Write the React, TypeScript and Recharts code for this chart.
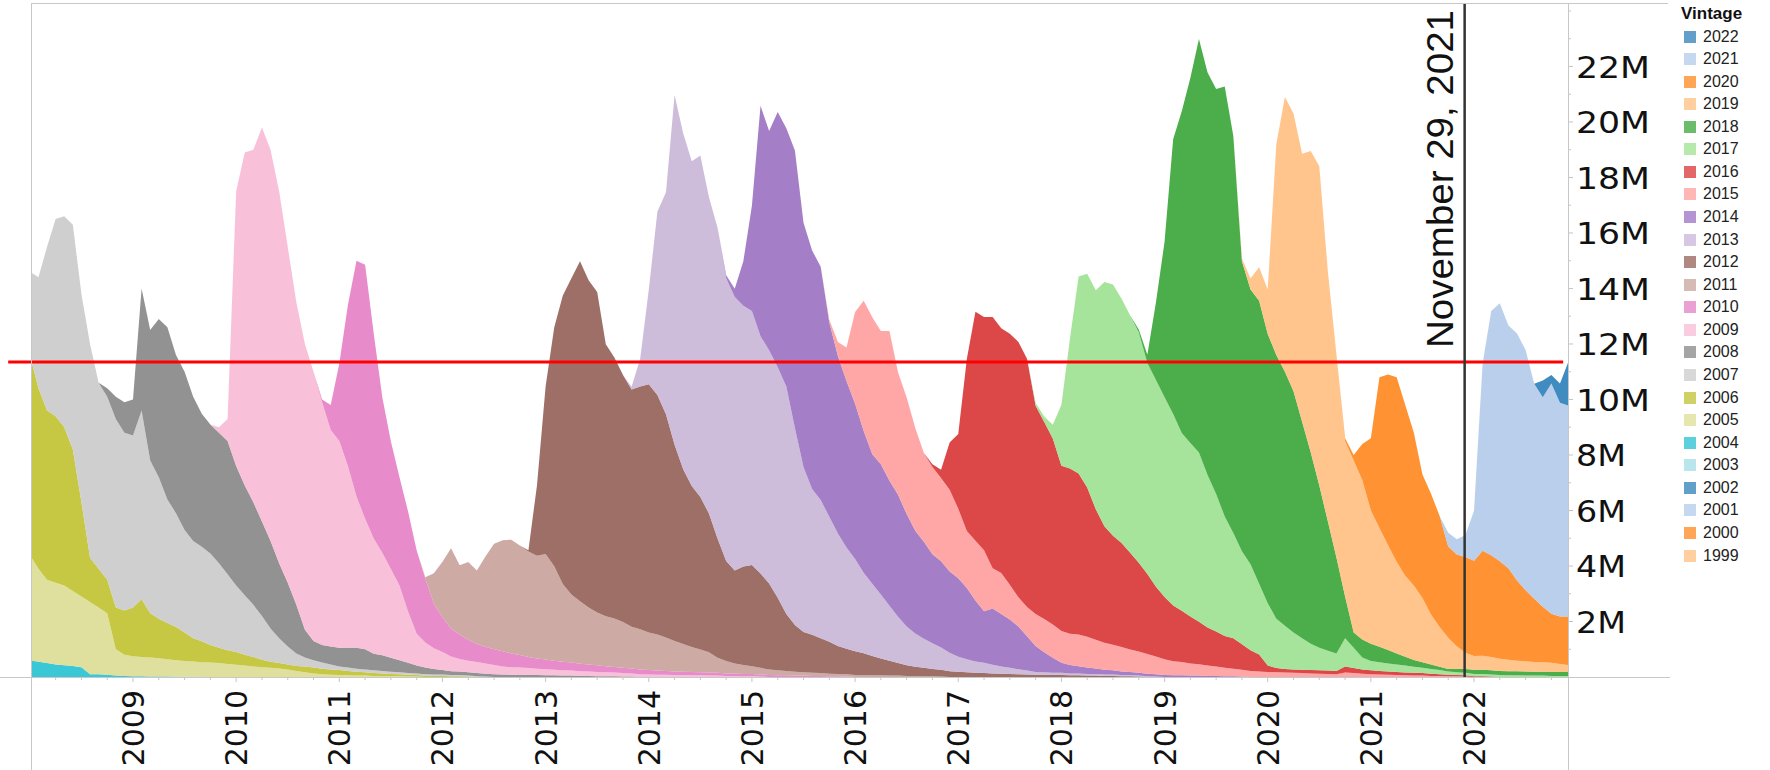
import React from 'react';
import { AreaChart, Area, XAxis, YAxis, ReferenceLine } from 'recharts';

// ---------- categories ----------
const legendVintages = ['2022','2021','2020','2019','2018','2017','2016','2015','2014','2013','2012','2011','2010','2009','2008','2007','2006','2005','2004','2003','2002','2001','2000','1999'];
const drawnVintages = ['2004','2005','2006','2007','2008','2009','2010','2011','2012','2013','2014','2015','2016','2017','2018','2019','2020','2021','2022'];

const vintageColors: Record<string, string> = {
  '2022': '#1f77b4', '2021': '#aec7e8', '2020': '#ff7f0e', '2019': '#ffbb78',
  '2018': '#2ca02c', '2017': '#98df8a', '2016': '#d62728', '2015': '#ff9896',
  '2014': '#9467bd', '2013': '#c5b0d5', '2012': '#8c564b', '2011': '#c49c94',
  '2010': '#e377c2', '2009': '#f7b6d2', '2008': '#7f7f7f', '2007': '#c7c7c7',
  '2006': '#bcbd22', '2005': '#dbdb8d', '2004': '#17becf', '2003': '#9edae5',
  '2002': '#1f77b4', '2001': '#aec7e8', '2000': '#ff7f0e', '1999': '#ffbb78',
};

// first month of each vintage's monthly series
const seriesStart: Record<string, string> = {
  '2004': '2008-01', '2005': '2008-01', '2006': '2008-01', '2007': '2008-01',
  '2008': '2008-10', '2009': '2009-11', '2010': '2010-11', '2011': '2011-11',
  '2012': '2012-11', '2013': '2013-11', '2014': '2014-10', '2015': '2015-10',
  '2016': '2016-10', '2017': '2017-10', '2018': '2018-10', '2019': '2019-10',
  '2020': '2020-10', '2021': '2021-09', '2022': '2022-08',
};

// ---------- series values (millions, one value per month) ----------
const v2004 = [0.6,0.55,0.5,0.45,0.42,0.4,0.35,0.1,0.1,0.08,0.05,0.04,0.03,0.03,0.02,0.02,0.02,0.01,0.01,0.01];
const v2005 = [3.8,3.35,3.0,2.95,2.88,2.7,2.55,2.6,2.4,2.22,0.95,0.76,0.72,0.69,0.68,0.66,0.62,0.59,0.57,0.55,0.53,0.52,0.5,0.47,0.44,0.41,0.38,0.35,0.33,0.31,0.27,0.22,0.17,0.13,0.1,0.08,0.07,0.06,0.05,0.05,0.04,0.04,0.03,0.03,0.02,0.02];
const v2006 = [7.2,6.5,6.1,6.0,5.7,5.1,3.4,1.6,1.4,1.2,1.5,1.6,1.75,2.08,1.6,1.42,1.31,1.2,1.02,0.84,0.76,0.63,0.55,0.49,0.46,0.39,0.34,0.27,0.22,0.19,0.18,0.18,0.21,0.21,0.2,0.19,0.18,0.16,0.14,0.12,0.1,0.09,0.08,0.07,0.06,0.05,0.05,0.04,0.04,0.03,0.03,0.02];
const v2007 = [3.0,4.0,5.9,7.1,7.6,8.1,7.5,7.7,6.7,6.6,6.8,6.4,6.2,6.8,5.5,5.1,4.45,4.1,3.7,3.5,3.4,3.3,3.05,2.74,2.4,2.15,1.88,1.58,1.2,0.9,0.65,0.45,0.32,0.26,0.22,0.18,0.13,0.12,0.11,0.1,0.1,0.09,0.08,0.07,0.06,0.06,0.05,0.05,0.05,0.04,0.04,0.03,0.03,0.02];
const v2008 = [0.3,0.8,1.1,1.3,4.4,4.7,5.7,6.2,5.7,5.7,5.2,4.8,4.65,4.7,4.8,4.3,3.95,3.7,3.4,3.15,2.7,2.3,1.75,1.0,0.7,0.63,0.65,0.67,0.71,0.75,0.73,0.6,0.56,0.5,0.43,0.37,0.28,0.24,0.2,0.16,0.14,0.13,0.12,0.11,0.1,0.1,0.09,0.08,0.08,0.07,0.07,0.06,0.06,0.05,0.05,0.04,0.04,0.03,0.03,0.03,0.02,0.02];
const v2009 = [0.2,0.8,9.9,12.0,12.7,14.2,14.1,13.4,12.1,10.9,10.3,9.7,8.75,7.8,7.45,6.55,5.45,4.7,4.15,3.7,3.2,2.7,1.85,1.15,0.9,0.75,0.65,0.53,0.45,0.42,0.4,0.37,0.33,0.29,0.27,0.26,0.25,0.23,0.22,0.2,0.19,0.18,0.17,0.16,0.15,0.14,0.13,0.12,0.11,0.1,0.09,0.08,0.08,0.07,0.07,0.06,0.06,0.05,0.05,0.04,0.04,0.03,0.03,0.02];
const v2010 = [0.1,0.9,2.8,5.8,8.5,9.15,7.4,5.6,4.6,3.9,3.6,3.0,2.3,1.6,1.25,1.0,0.88,0.75,0.65,0.6,0.57,0.55,0.5,0.45,0.4,0.37,0.35,0.33,0.31,0.29,0.27,0.25,0.24,0.22,0.2,0.19,0.18,0.17,0.16,0.15,0.14,0.13,0.12,0.12,0.11,0.11,0.1,0.09,0.09,0.08,0.08,0.07,0.07,0.06,0.06,0.05,0.05,0.04,0.04,0.03,0.03,0.02];
const v2011 = [0.05,1.1,2.0,2.9,2.5,2.8,2.65,3.25,3.8,4.0,4.1,3.95,3.8,3.7,3.8,3.4,2.8,2.45,2.25,2.05,1.9,1.8,1.75,1.65,1.5,1.45,1.35,1.3,1.2,1.1,1.0,0.9,0.82,0.73,0.54,0.45,0.36,0.32,0.28,0.24,0.2,0.18,0.16,0.14,0.12,0.11,0.1,0.09,0.08,0.08,0.07,0.07,0.06,0.06,0.05,0.05,0.04,0.04,0.03,0.03,0.02];
const v2012 = [0.05,2.55,6.05,8.6,10.4,11.4,12.25,11.8,11.55,9.8,9.4,8.9,8.55,8.75,8.95,8.63,8.05,7.07,6.3,5.8,5.5,5.0,4.3,3.6,3.35,3.55,3.65,3.4,3.1,2.62,2.05,1.68,1.45,1.37,1.26,1.15,1.01,0.92,0.86,0.79,0.7,0.61,0.54,0.45,0.38,0.33,0.3,0.26,0.24,0.21,0.19,0.17,0.15,0.14,0.13,0.12,0.11,0.1,0.09,0.08,0.08,0.07,0.07,0.06,0.06,0.05,0.05,0.04,0.04,0.03,0.03,0.02];
const v2013 = [0.1,1.0,3.4,6.6,8.0,12.6,12.1,11.7,12.3,11.4,11.2,10.2,9.85,9.4,9.15,8.55,8.4,8.3,8.2,7.1,5.95,5.25,4.98,4.5,4.05,3.65,3.32,2.9,2.6,2.3,1.98,1.67,1.4,1.2,1.05,0.93,0.8,0.66,0.54,0.47,0.41,0.37,0.31,0.26,0.22,0.18,0.14,0.1,0.09,0.08,0.08,0.07,0.07,0.06,0.06,0.05,0.05,0.04,0.04,0.03,0.03,0.02];
const v2014 = [0.1,0.3,1.6,3.8,8.3,7.9,9.2,9.3,10.0,8.8,8.6,8.4,7.0,6.4,6.0,5.6,5.1,4.67,4.7,4.5,4.4,4.05,3.7,3.49,3.2,3.11,2.93,2.83,2.57,2.2,1.86,2.03,1.89,1.74,1.54,1.24,0.94,0.72,0.54,0.36,0.3,0.26,0.23,0.2,0.17,0.15,0.13,0.11,0.1,0.09,0.08,0.07,0.06,0.06,0.05,0.05,0.04,0.04,0.03,0.03,0.02];
const v2015 = [0.1,0.5,1.2,3.3,4.7,4.93,4.8,5.4,4.4,4.2,3.7,3.2,3.15,3.0,2.95,2.5,2.05,2.15,2.2,1.45,1.48,1.25,1.05,1.05,1.15,1.2,1.2,1.15,1.13,1.14,1.11,1.03,0.97,0.92,0.88,0.81,0.77,0.71,0.64,0.57,0.51,0.48,0.44,0.41,0.37,0.34,0.3,0.27,0.24,0.22,0.2,0.18,0.17,0.16,0.15,0.14,0.13,0.12,0.11,0.1,0.16,0.14,0.12,0.1,0.09,0.08,0.07,0.06,0.05,0.05,0.04,0.04,0.03,0.03,0.02];
const v2016 = [0.1,0.3,1.7,2.7,6.2,8.25,8.4,9.05,8.82,9.05,9.2,8.95,7.5,7.1,6.7,5.95,5.95,5.8,5.38,4.7,4.2,3.93,3.75,3.49,3.2,2.88,2.51,2.24,2.01,1.85,1.69,1.53,1.37,1.26,1.15,1.1,0.92,0.74,0.61,0.23,0.15,0.13,0.12,0.12,0.12,0.12,0.12,0.12,0.22,0.18,0.15,0.14,0.13,0.12,0.11,0.1,0.1,0.09,0.08,0.06,0.05,0.04,0.04,0.03,0.03,0.02];
const v2017 = [0.1,0.2,0.5,2.2,4.7,7.1,7.7,7.9,8.8,9.05,8.8,8.55,8.3,7.6,7.45,7.2,6.9,6.4,6.25,6.1,5.5,4.95,4.3,3.79,3.35,3.1,2.55,2.25,1.78,1.56,1.33,1.14,0.95,0.81,0.72,0.63,1.02,0.73,0.43,0.34,0.31,0.29,0.27,0.25,0.22,0.19,0.17,0.15,0.12,0.1,0.09,0.08,0.08,0.07,0.07,0.06,0.06,0.05,0.05,0.05,0.04,0.04,0.04];
const v2018 = [0.1,0.3,2.8,5.6,9.9,11.6,13.15,14.9,14.5,14.6,15.5,14.3,10.45,9.9,10.2,9.7,9.5,9.15,8.7,7.8,6.9,5.85,4.65,3.45,1.5,0.55,0.65,0.62,0.56,0.48,0.4,0.32,0.24,0.2,0.16,0.12,0.09,0.12,0.14,0.15,0.15,0.15,0.15,0.15,0.15,0.15,0.14,0.14,0.14,0.14,0.14];
const v2019 = [0.1,0.4,1.2,1.6,7.6,9.9,10.0,9.65,10.85,11.5,9.0,7.3,5.6,6.2,5.75,4.8,4.28,3.78,3.3,2.92,2.69,2.32,1.8,1.43,1.12,0.82,0.58,0.5,0.51,0.48,0.44,0.41,0.38,0.37,0.35,0.34,0.33,0.29,0.25];
const v2020 = [0.1,0.2,1.3,2.6,5.43,6.15,6.65,6.15,5.5,4.45,4.35,4.0,3.29,3.3,3.45,3.43,3.78,3.67,3.51,3.3,2.89,2.56,2.28,2.0,1.77,1.71,1.75];
const v2021 = [0,0.5,0.55,0.8,1.8,6.75,8.8,9.3,8.75,8.9,8.65,7.75,7.55,8.3,7.7,7.6];
const v2022 = [0,0.6,0.3,0.7,1.6];

const seriesValues: Record<string, number[]> = {
  '2004': v2004, '2005': v2005, '2006': v2006, '2007': v2007, '2008': v2008,
  '2009': v2009, '2010': v2010, '2011': v2011, '2012': v2012, '2013': v2013,
  '2014': v2014, '2015': v2015, '2016': v2016, '2017': v2017, '2018': v2018,
  '2019': v2019, '2020': v2020, '2021': v2021, '2022': v2022,
};

// ---------- axis ticks & annotations ----------
const yearTickLabels = ['2009','2010','2011','2012','2013','2014','2015','2016','2017','2018','2019','2020','2021','2022'];
const yTickValues = [1,2,3,4,5,6,7,8,9,10,11,12,13,14,15,16,17,18,19,20,21,22,23,24];
const thresholdValue = 11.35;           // millions (red line)
const thresholdFrom = 2007.79;
const thresholdTo = 2022.864;
const markerDate = 2021.909;            // November 29, 2021
const markerLabel = 'November 29, 2021';
const firstYear = 2008;
const monthCount = 180;
const xDomain: [number, number] = [2008.017, 2022.911];
const yDomain: [number, number] = [0, 24.25];

const monthIndex = (s: string) => {
  const [y, m] = s.split('-').map(Number);
  return (y - firstYear) * 12 + (m - 1);
};

const data = Array.from({ length: monthCount }, (_, m) => {
  const row: Record<string, number> = { t: firstYear + m / 12 };
  for (const k of drawnVintages) {
    const arr = seriesValues[k];
    const i = m - monthIndex(seriesStart[k]);
    row['v' + k] = i >= 0 && i < arr.length ? arr[i] : 0;
  }
  return row;
});

const quarterTicks: number[] = [];
for (let y = firstYear; y <= 2022; y++) {
  for (let q = 0; q < 4; q++) {
    const v = y + q / 4;
    if (v > xDomain[0] && v < xDomain[1]) quarterTicks.push(v);
  }
}

const XTick = (props: any) => {
  const { x, y, payload } = props;
  const v = payload.value as number;
  const isYear = Math.abs(v - Math.round(v)) < 1e-6;
  const label = isYear ? yearTickLabels.find((l) => Number(l) === Math.round(v)) : undefined;
  const bx = x + 11;
  const by = y + 13;
  return (
    <g>
      <line x1={x} x2={x} y1={y} y2={y + (isYear ? 5 : 3)} stroke="#c4c4c4" strokeWidth={1} />
      {label && (
        <text x={bx} y={by} transform={`rotate(-90 ${bx} ${by})`} textAnchor="end"
          fontSize={30} fontFamily="DejaVu Sans" fill="#111">{label}</text>
      )}
    </g>
  );
};

const YTick = (props: any) => {
  const { x, y, payload } = props;
  const v = payload.value as number;
  const major = v % 2 === 0 && v <= 22;
  return (
    <g>
      <line x1={x} x2={x + (major ? 5 : 3)} y1={y} y2={y} stroke="#c4c4c4" strokeWidth={1} />
      {major && (
        <text x={x + 8} y={y} dy="0.36em" fontSize={31} fontFamily="DejaVu Sans" fill="#111"
          textLength={v >= 10 ? 74 : 50} lengthAdjust="spacingAndGlyphs">{`${v}M`}</text>
      )}
    </g>
  );
};

const MarkerLabel = (props: any) => {
  const vb = props.viewBox || {};
  const bx = (vb.x ?? 0) - 11.5;
  const by = (vb.y ?? 0) + 344;
  return (
    <text x={bx} y={by} transform={`rotate(-90 ${bx} ${by})`} textAnchor="start"
      fontSize={37} fontFamily="Liberation Sans" fill="#111" textLength={338}
      lengthAdjust="spacingAndGlyphs">{markerLabel}</text>
  );
};

const frame = '#c8c8c8';
const lineStyle = (s: React.CSSProperties): React.CSSProperties => ({ position: 'absolute', background: frame, ...s });

export default function App() {
  return (
    <div style={{ position: 'absolute', left: 0, top: 0, width: 1770, height: 770, background: '#fff', overflow: 'hidden' }}>
      <AreaChart width={1770} height={770} data={data}
        margin={{ top: 4, right: 102, bottom: 0, left: 31.6 }}>
        <XAxis dataKey="t" type="number" domain={xDomain} allowDataOverflow ticks={quarterTicks}
          interval={0} tickSize={0} tickMargin={0} axisLine={false} tickLine={false} height={93}
          tick={<XTick />} />
        <YAxis orientation="right" type="number" domain={yDomain} allowDataOverflow ticks={yTickValues}
          interval={0} tickSize={0} tickMargin={0} axisLine={false} tickLine={false} width={100}
          tick={<YTick />} />
        {drawnVintages.map((k) => (
          <Area key={k} type="linear" dataKey={'v' + k} stackId="vintage" stroke="none"
            fill={vintageColors[k]} fillOpacity={0.85} isAnimationActive={false}
            dot={false} activeDot={false} />
        ))}
        <ReferenceLine segment={[{ x: thresholdFrom, y: thresholdValue }, { x: thresholdTo, y: thresholdValue }]}
          stroke="#ff0000" strokeWidth={3} ifOverflow="visible" />
        <ReferenceLine x={markerDate} stroke="#333333" strokeWidth={2.5} ifOverflow="visible"
          label={<MarkerLabel />} />
      </AreaChart>

      {/* frame lines */}
      <div style={lineStyle({ left: 31, top: 3, width: 1637, height: 1 })} />
      <div style={lineStyle({ left: 31, top: 3, width: 1, height: 767 })} />
      <div style={lineStyle({ left: 1567.5, top: 3, width: 1, height: 767 })} />
      <div style={lineStyle({ left: 0, top: 677, width: 1670, height: 1 })} />

      {/* legend */}
      <div style={{ position: 'absolute', left: 1681, top: 4, fontFamily: 'Liberation Sans', fontWeight: 'bold', fontSize: 17, lineHeight: '20px', color: '#111' }}>Vintage</div>
      {legendVintages.map((k, i) => (
        <div key={k} style={{ position: 'absolute', left: 1684, top: 25.5 + i * 22.57, height: 22, display: 'flex', alignItems: 'center', fontFamily: 'Liberation Sans', fontSize: 16, color: '#222' }}>
          <div style={{ width: 12, height: 12, background: vintageColors[k], opacity: 0.7, marginRight: 7 }} />
          <span>{k}</span>
        </div>
      ))}
    </div>
  );
}
